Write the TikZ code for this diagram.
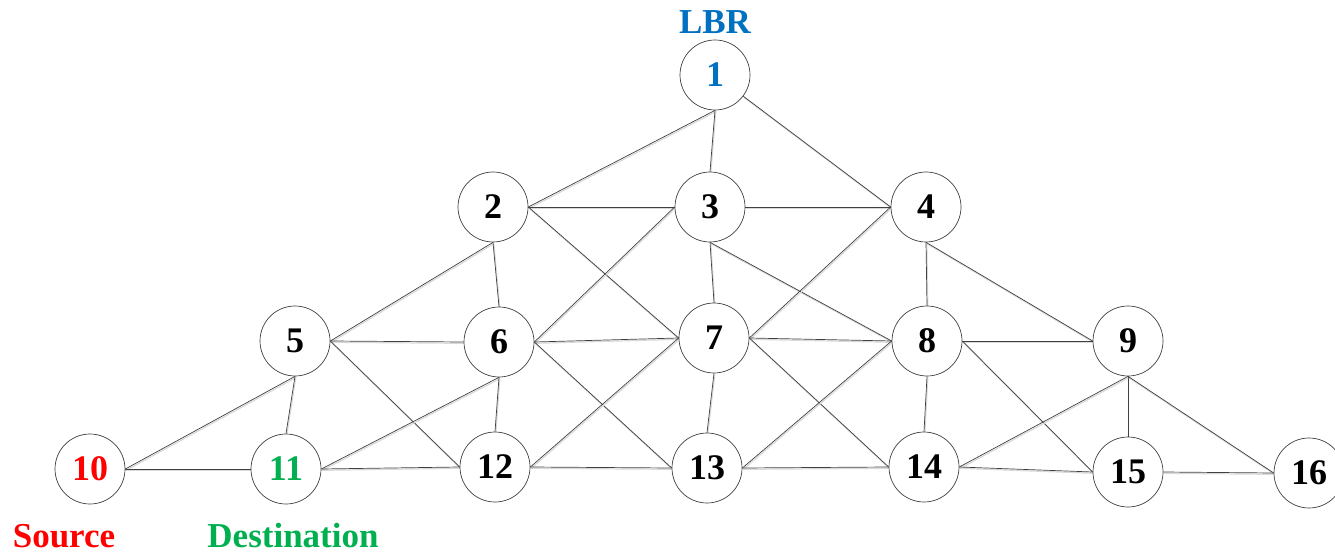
\documentclass[tikz,border=0pt]{standalone}
\usepackage{fontspec}
\setmainfont{Liberation Serif}
\usetikzlibrary{backgrounds}
\definecolor{lbrblue}{RGB}{0,112,192}
\definecolor{srcred}{RGB}{255,0,0}
\definecolor{dstgreen}{RGB}{0,176,80}
\tikzset{
  vtx/.style={circle, draw=black!75, line width=0.7pt, fill=white, minimum size=70pt, inner sep=0pt,
    font=\fontsize{36}{40}\selectfont\bfseries},
  lbl/.style={font=\fontsize{35}{38}\selectfont\bfseries, inner sep=0pt},
  link/.style={draw=black!75, line width=0.7pt,
    preaction={draw=black!15, line width=1.2pt, transform canvas={shift={(0.8pt,-1.3pt)}}}}
}
\begin{document}
\begin{tikzpicture}[x=1pt, y=-1pt]
\useasboundingbox (0,0) rectangle (1335,553);
\node[vtx, text=lbrblue] (n1) at (715,75) {1};
\node[vtx] (n2) at (493,207) {2};
\node[vtx] (n3) at (710,207) {3};
\node[vtx] (n4) at (926,207) {4};
\node[vtx] (n5) at (295,341) {5};
\node[vtx] (n6) at (499,342) {6};
\node[vtx] (n7) at (714,338) {7};
\node[vtx] (n8) at (927,341) {8};
\node[vtx] (n9) at (1128,341) {9};
\node[vtx, text=srcred] (n10) at (90,469) {10};
\node[vtx, text=dstgreen] (n11) at (286,469) {11};
\node[vtx] (n12) at (495,467) {12};
\node[vtx] (n13) at (707,468) {13};
\node[vtx] (n14) at (924,467) {14};
\node[vtx] (n15) at (1128,472) {15};
\node[vtx] (n16) at (1309,473) {16};
\node[lbl, text=lbrblue] (tlbr) at (715,22) {LBR};
\node[lbl, text=srcred] (tsrc) at (64,536) {Source};
\node[lbl, text=dstgreen] (tdst) at (293,536) {Destination};
\begin{scope}[on background layer]
\draw[link] (n1.south) -- (n2.east);
\draw[link] (n1.south) -- (n3.north);
\draw[link] (n1) -- (n4.west);
\draw[link] (n2.east) -- (n3.west);
\draw[link] (n3.east) -- (n4.west);
\draw[link] (n2.south) -- (n5.east);
\draw[link] (n2.south) -- (n6.north);
\draw[link] (n2.east) -- (n7.west);
\draw[link] (n3.west) -- (n6.east);
\draw[link] (n3.south) -- (n7.north);
\draw[link] (n3.south) -- (n8.west);
\draw[link] (n4.west) -- (n7.east);
\draw[link] (n4.south) -- (n8.north);
\draw[link] (n4.south) -- (n9.west);
\draw[link] (n5.east) -- (n6.west);
\draw[link] (n5.south) -- (n10.east);
\draw[link] (n5.south) -- (n11.north);
\draw[link] (n5.east) -- (n12.west);
\draw[link] (n6.east) -- (n7.west);
\draw[link] (n6.south) -- (n11.east);
\draw[link] (n6.south) -- (n12.north);
\draw[link] (n6.east) -- (n13.west);
\draw[link] (n7.east) -- (n8.west);
\draw[link] (n7.west) -- (n12.east);
\draw[link] (n7.south) -- (n13.north);
\draw[link] (n7.east) -- (n14.west);
\draw[link] (n8.east) -- (n9.west);
\draw[link] (n8.west) -- (n13.east);
\draw[link] (n8.south) -- (n14.north);
\draw[link] (n8.east) -- (n15.west);
\draw[link] (n9.south) -- (n14.east);
\draw[link] (n9.south) -- (n15.north);
\draw[link] (n9.south) -- (n16.west);
\draw[link] (n10.east) -- (n11.west);
\draw[link] (n11.east) -- (n12.west);
\draw[link] (n12.east) -- (n13.west);
\draw[link] (n13.east) -- (n14.west);
\draw[link] (n14.east) -- (n15.west);
\draw[link] (n15.east) -- (n16.west);
\end{scope}
\end{tikzpicture}
\end{document}
